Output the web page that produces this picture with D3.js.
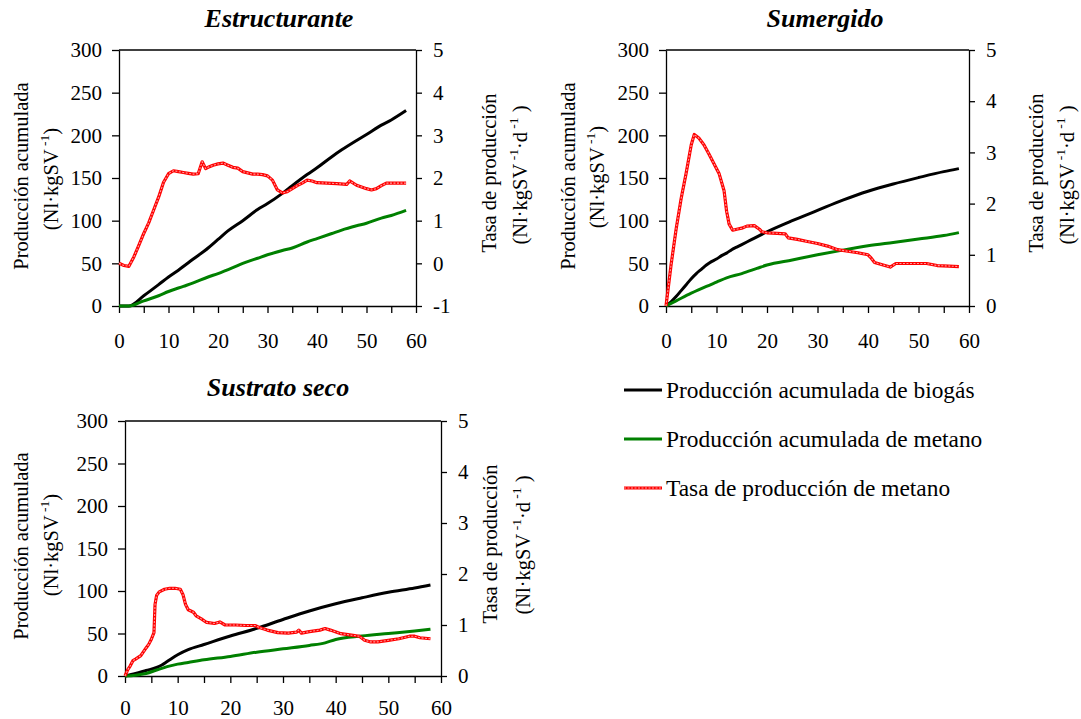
<!DOCTYPE html>
<html><head><meta charset="utf-8">
<script src="https://cdn.jsdelivr.net/npm/d3@7"></script>
<style>
body{margin:0;background:#fff}
svg text{font-family:"Liberation Serif","Times New Roman",serif;fill:#000}
</style>
</head><body>
<svg id="c" width="1081" height="719"></svg>
<script>
// ---------- data ----------
const dayTicks = [0,10,20,30,40,50,60];
const leftTicks = [0,50,100,150,200,250,300];
const rightTicksA = [-1,0,1,2,3,4,5];
const rightTicksB = [0,1,2,3,4,5];
const panelTitles = ["Estructurante","Sumergido","Sustrato seco"];
const seriesNames = ["Producción acumulada de biogás","Producción acumulada de metano","Tasa de producción de metano"];

// Estructurante
const estBiogas = [[0,0],[2,0],[5,12],[8,25],[10,34],[12,42],[15,55],[18,68],[20,78],[22,88],[25,100],[28,113],[30,120],[33,132],[35,141],[38,154],[40,162],[43,175],[45,183],[48,194],[50,201],[53,212],[55,218],[58,229]];
const estMetano = [[0,0],[2,0],[5,6],[8,12],[10,17],[13,23],[15,27],[18,34],[20,38],[23,45],[25,50],[28,56],[30,60],[33,65],[35,68],[38,75],[40,79],[43,85],[45,89],[48,94],[50,97],[53,103],[55,106],[58,112]];
const estTasa = [[0,0.0],[1,-0.05],[2,-0.07],[3,0.15],[4,0.42],[5,0.7],[6,0.95],[7,1.25],[8,1.55],[9,1.9],[10,2.1],[11,2.17],[12,2.15],[13,2.13],[14,2.11],[15,2.09],[16,2.1],[16.8,2.38],[17.5,2.22],[18,2.25],[19,2.3],[20,2.33],[21,2.35],[22,2.3],[23,2.25],[24,2.23],[25,2.15],[26,2.12],[27,2.09],[28,2.09],[29,2.08],[30,2.05],[31,1.95],[32,1.72],[33,1.65],[34,1.68],[35,1.75],[36,1.82],[37,1.88],[38,1.95],[39,1.93],[40,1.89],[42,1.88],[44,1.87],[46,1.85],[46.6,1.93],[48,1.83],[50,1.75],[51,1.72],[52,1.75],[53,1.82],[54,1.88],[56,1.88],[58,1.88]];

// Sumergido
const sumBiogas = [[0,0],[1,5],[2,11],[3,18],[4,25],[5,32],[6,38],[7,43],[8,48],[9,52],[10,55],[11,59],[12,62],[13,66],[14,69],[15,72],[17,78],[20,87],[25,100],[30,112],[35,124],[40,134.5],[45,143],[50,150.5],[55,157.5],[58,161]];
const sumMetano = [[0,0],[2,6],[5,15],[8,23],[10,28],[12,33],[15,38],[18,44],[20,48],[25,54],[30,60],[35,65.5],[40,70.5],[45,74.5],[50,78.5],[55,82.5],[58,86]];
const sumTasa = [[0,0],[0.5,0.4],[1,0.8],[2,1.5],[3,2.1],[4,2.6],[5,3.15],[5.6,3.35],[6.5,3.28],[7.5,3.15],[8.5,2.97],[9.5,2.78],[10.5,2.59],[11.5,2.25],[12,1.85],[12.5,1.6],[13.2,1.48],[14,1.5],[15,1.52],[16,1.56],[17.5,1.57],[18.5,1.5],[19,1.45],[20,1.43],[22,1.42],[23.6,1.41],[24.2,1.33],[26,1.3],[28,1.26],[30,1.22],[32,1.17],[34,1.1],[36,1.07],[38,1.04],[40,1.0],[40.5,0.95],[41.3,0.85],[43,0.8],[44.4,0.76],[45.5,0.83],[48,0.83],[51.6,0.83],[53.7,0.79],[56,0.78],[58,0.77]];

// Sustrato seco
const secBiogas = [[0,0],[2,3],[4,6.5],[6,10],[7,13],[8,17],[10,25],[12,31],[15,37],[20,47],[25,56],[30,66.5],[35,76.5],[40,85],[45,92],[50,98.5],[55,103.5],[58,107]];
const secMetano = [[0,0],[2,1],[4,3],[6,7],[8,11],[10,14],[12,16],[15,19],[20,23],[25,28],[30,32],[35,36],[38,39],[40,43],[45,47],[50,50],[55,53],[58,55]];
const secTasa = [[0,0],[0.5,0.12],[1,0.2],[1.5,0.3],[2,0.33],[3,0.4],[4,0.55],[4.5,0.62],[5,0.72],[5.5,0.85],[5.7,1.4],[6,1.58],[6.5,1.65],[7.5,1.7],[8.5,1.72],[9.5,1.72],[10.5,1.7],[11,1.6],[11.5,1.4],[12,1.3],[13,1.25],[13.5,1.18],[14.5,1.12],[15.5,1.05],[17,1.03],[18,1.06],[19,1.0],[21,1.0],[23,0.99],[24.7,0.99],[25.5,0.95],[27,0.9],[29,0.85],[31,0.84],[32.6,0.86],[33,0.9],[33.5,0.84],[35,0.87],[37,0.9],[38,0.93],[39,0.9],[41,0.83],[43,0.8],[44.5,0.78],[45.5,0.7],[46.5,0.67],[48,0.67],[50,0.7],[52,0.73],[54,0.78],[55,0.78],[56,0.75],[58,0.73]];

// ---------- drawing ----------
const svg = d3.select("#c");
const COLORS = {biogas:"#000000", metano:"#008000", tasa:"#ff0000"};
const FONT = "Liberation Serif, Times New Roman, serif";

function drawTasa(g, path){
  g.append("path").attr("d", path).attr("fill","none").attr("stroke",COLORS.tasa).attr("stroke-width",3.2).attr("stroke-linejoin","round");
  g.append("path").attr("d", path).attr("fill","none").attr("stroke","#ff9c9c").attr("stroke-width",1.1).attr("stroke-dasharray","2 1.5");
}

function superLine(sel, parts){
  parts.forEach(p=>{
    const t = sel.append("tspan").text(p.t);
    if(p.sup){ t.attr("font-size",13.5).attr("dy",-7); }
    else if(p.down){ t.attr("dy",7); }
  });
}

function panel(cfg){
  const x = d3.scaleLinear().domain([0,60]).range([cfg.l,cfg.r]);
  const yL = d3.scaleLinear().domain([0,300]).range([cfg.b,cfg.t]);
  const yR = d3.scaleLinear().domain([cfg.rTicks[0], cfg.rTicks[cfg.rTicks.length-1]]).range([cfg.b,cfg.t]);
  const g = svg.append("g");

  g.append("line").attr("x1",cfg.l).attr("x2",cfg.r).attr("y1",cfg.t).attr("y2",cfg.t).attr("stroke","#000").attr("stroke-width",1.3);

  const styleAxis = a => {
    a.attr("font-family",FONT);
    a.selectAll("path.domain").attr("stroke","#000").attr("stroke-width",1.3);
    a.selectAll(".tick line").attr("stroke","#000").attr("stroke-width",1.3);
    a.selectAll(".tick text").attr("font-size",21).attr("fill","#000");
  };

  const ax = g.append("g").attr("transform",`translate(0,${cfg.b})`)
    .call(d3.axisBottom(x).tickValues(d3.range(0,61,5)).tickSize(7).tickSizeOuter(0).tickPadding(cfg.xPad)
      .tickFormat(d => dayTicks.includes(d) ? String(d) : ""));
  styleAxis(ax);

  const al = g.append("g").attr("transform",`translate(${cfg.l},0)`)
    .call(d3.axisLeft(yL).tickValues(leftTicks).tickSize(7).tickSizeOuter(0).tickPadding(10).tickFormat(d=>String(d)));
  styleAxis(al);

  const ar = g.append("g").attr("transform",`translate(${cfg.r},0)`)
    .call(d3.axisRight(yR).tickValues(cfg.rTicks).tickSize(6).tickSizeOuter(0).tickPadding(11).tickFormat(d=>String(d)));
  styleAxis(ar);

  const lineL = d3.line().curve(d3.curveMonotoneX).x(d=>x(d[0])).y(d=>yL(d[1]));
  const lineR = d3.line().x(d=>x(d[0])).y(d=>yR(d[1]));
  g.append("path").attr("d", lineL(cfg.biogas)).attr("fill","none").attr("stroke",COLORS.biogas).attr("stroke-width",3).attr("stroke-linejoin","round");
  g.append("path").attr("d", lineL(cfg.metano)).attr("fill","none").attr("stroke",COLORS.metano).attr("stroke-width",3).attr("stroke-linejoin","round");
  drawTasa(g, lineR(cfg.tasa));

  g.append("text").attr("x",cfg.titleX).attr("y",cfg.titleY).attr("text-anchor","middle")
    .attr("font-size",26).attr("font-weight","bold").attr("font-style","italic").text(cfg.title);

  g.append("text").attr("transform",`translate(${cfg.lt1[0]},${cfg.lt1[1]}) rotate(-90)`)
    .attr("text-anchor","middle").attr("dominant-baseline","central").attr("font-size",20.5).text("Producción acumulada");
  const lt2 = g.append("text").attr("transform",`translate(${cfg.lt2[0]},${cfg.lt2[1]}) rotate(-90)`)
    .attr("text-anchor","middle").attr("dominant-baseline","central").attr("font-size",20.5);
  superLine(lt2,[{t:"(Nl·kgSV"},{t:" -1",sup:true},{t:")",down:true}]);

  g.append("text").attr("transform",`translate(${cfg.rt1[0]},${cfg.rt1[1]}) rotate(-90)`)
    .attr("text-anchor","middle").attr("dominant-baseline","central").attr("font-size",20.5).text("Tasa de producción");
  const rt2 = g.append("text").attr("transform",`translate(${cfg.rt2[0]},${cfg.rt2[1]}) rotate(-90)`)
    .attr("text-anchor","middle").attr("dominant-baseline","central").attr("font-size",20.5);
  superLine(rt2,[{t:"(Nl·kgSV"},{t:" -1",sup:true},{t:"·d",down:true},{t:" -1",sup:true},{t:" )",down:true}]);
}

panel({l:119,r:416,t:50,b:306,rTicks:rightTicksA,title:panelTitles[0],titleX:279,titleY:27,xPad:20,
  lt1:[21,176],lt2:[51,179],rt1:[489,173],rt2:[520,175],
  biogas:estBiogas,metano:estMetano,tasa:estTasa});
panel({l:666,r:969,t:50,b:306,rTicks:rightTicksB,title:panelTitles[1],titleX:825,titleY:27,xPad:20,
  lt1:[568,176],lt2:[597,177],rt1:[1036,173],rt2:[1067,175],
  biogas:sumBiogas,metano:sumMetano,tasa:sumTasa});
panel({l:125,r:441,t:421,b:676,rTicks:rightTicksB,title:panelTitles[2],titleX:278,titleY:396,xPad:17,
  lt1:[21,546],lt2:[51,545],rt1:[490,544],rt2:[523,545],
  biogas:secBiogas,metano:secMetano,tasa:secTasa});

// legend
const lg = svg.append("g");
const legY = [390,439,488];
const legKeys = ["biogas","metano","tasa"];
legKeys.forEach((k,i)=>{
  const y = legY[i];
  if(k==="tasa"){
    drawTasa(lg, d3.line()([[624,y],[662,y]]));
  } else {
    lg.append("line").attr("x1",624).attr("x2",662).attr("y1",y).attr("y2",y).attr("stroke",COLORS[k]).attr("stroke-width",3);
  }
  lg.append("text").attr("x",666).attr("y",y).attr("dominant-baseline","central").attr("font-size",23.4).text(seriesNames[i]);
});
</script>
</body></html>
